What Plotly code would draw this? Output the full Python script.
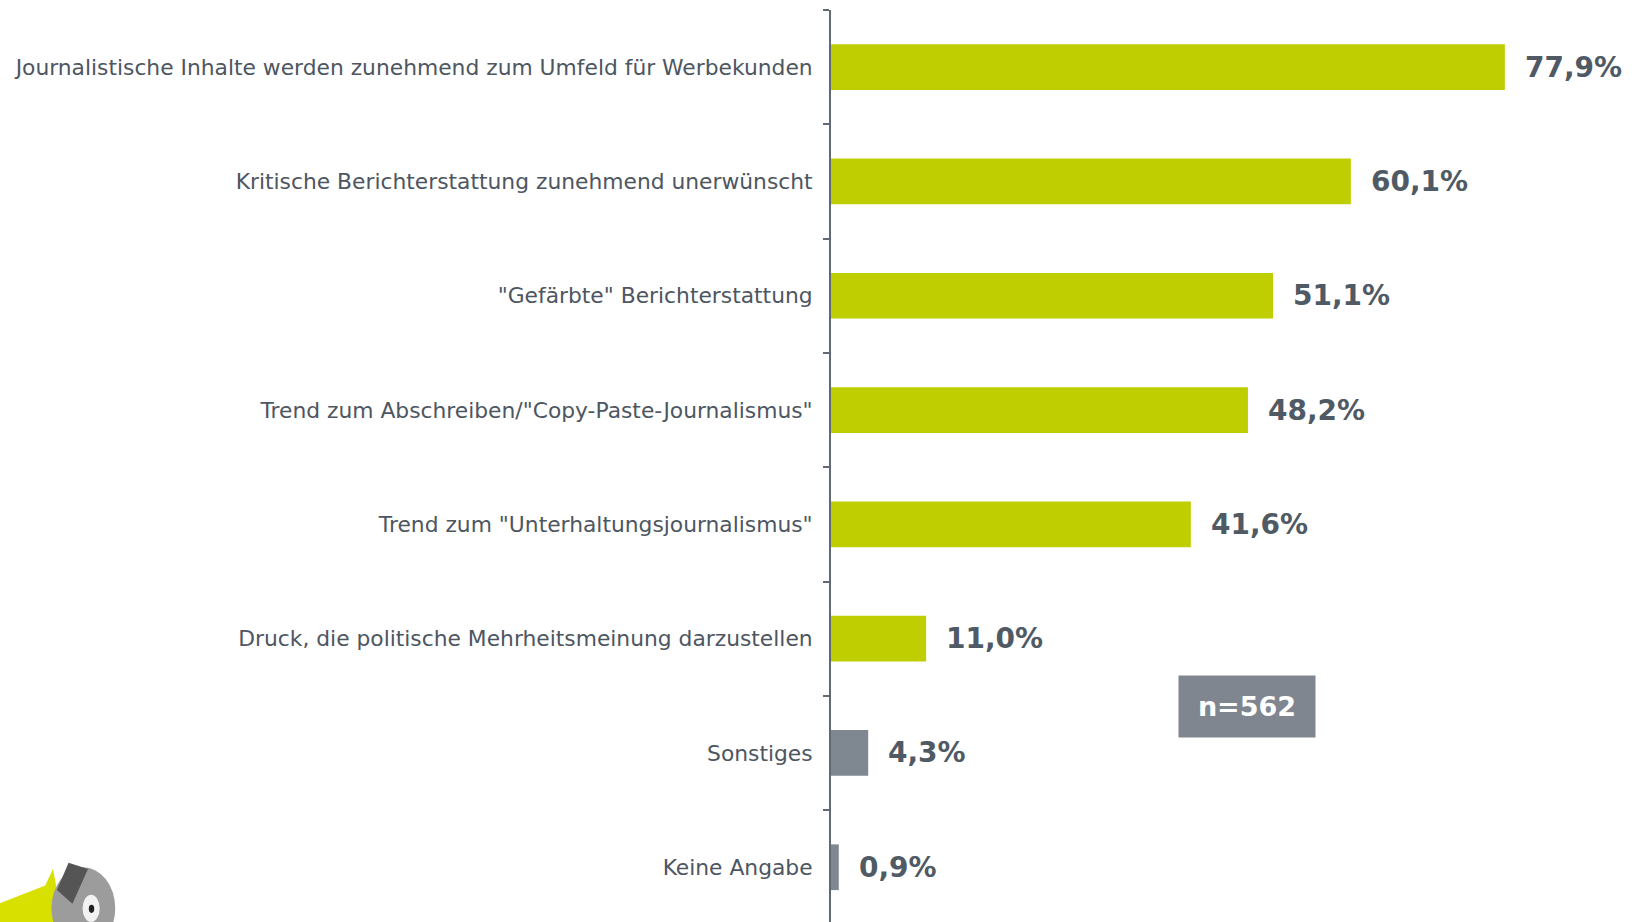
import plotly.graph_objects as go

categories = [
    "Journalistische Inhalte werden zunehmend zum Umfeld für Werbekunden",
    "Kritische Berichterstattung zunehmend unerwünscht",
    "\"Gefärbte\" Berichterstattung",
    "Trend zum Abschreiben/\"Copy-Paste-Journalismus\"",
    "Trend zum \"Unterhaltungsjournalismus\"",
    "Druck, die politische Mehrheitsmeinung darzustellen",
    "Sonstiges",
    "Keine Angabe",
]
values = [77.9, 60.1, 51.1, 48.2, 41.6, 11.0, 4.3, 0.9]
bar_colors = ["#bfce00"] * 6 + ["#7f8790"] * 2
value_labels = [f"{v:.1f}%".replace(".", ",") for v in values]
sample_note = "n=562"

fig = go.Figure()
fig.add_trace(go.Bar(
    y=categories, x=values, orientation="h",
    marker=dict(color=bar_colors, line=dict(width=0)),
    width=0.4, hoverinfo="skip",
))

for cat, v, lab in zip(categories, values, value_labels):
    fig.add_annotation(
        x=v, y=cat, text=f"<b>{lab}</b>", showarrow=False,
        xanchor="left", yanchor="middle", xshift=18,
        font=dict(family="DejaVu Sans", size=28, color="#4f5a65"),
    )

fig.add_annotation(
    xref="paper", yref="paper", x=(1247 - 831) / 778, y=(922 - 706) / 912,
    text=f"<b>{sample_note}</b>", showarrow=False,
    xanchor="center", yanchor="middle",
    width=130, height=55, borderpad=3,
    bgcolor="#80868f",
    font=dict(family="DejaVu Sans", size=27, color="#ffffff"),
)

# small logo approximation (bottom-left)
fig.add_shape(type="path", xref="paper", yref="paper",
              path="M -1.07 -0.01 L -1.07 0.02 L -1.01 0.04 L -1.0 0.058 L -0.985 -0.01 Z",
              fillcolor="#d8e000", line=dict(width=0), layer="above")
fig.add_shape(type="circle", xref="paper", yref="paper",
              x0=-1.002, x1=-0.92, y0=-0.03, y1=0.06,
              fillcolor="#9c9c9c", line=dict(width=0), layer="above")
fig.add_shape(type="path", xref="paper", yref="paper",
              path="M -0.995 0.035 L -0.98 0.065 L -0.955 0.058 L -0.975 0.02 Z",
              fillcolor="#555555", line=dict(width=0), layer="above")
fig.add_shape(type="circle", xref="paper", yref="paper",
              x0=-0.962, x1=-0.94, y0=0.0, y1=0.03,
              fillcolor="#f2f2f2", line=dict(width=0), layer="above")
fig.add_shape(type="circle", xref="paper", yref="paper",
              x0=-0.954, x1=-0.947, y0=0.01, y1=0.019,
              fillcolor="#222222", line=dict(width=0), layer="above")

fig.update_layout(
    width=1634, height=922,
    margin=dict(l=831, r=25, t=10, b=0),
    plot_bgcolor="white", paper_bgcolor="white",
    showlegend=False, bargap=0.6,
    xaxis=dict(range=[0, 778 / 8.65], visible=False, showgrid=False, zeroline=False),
    yaxis=dict(
        type="category", categoryorder="array", categoryarray=categories,
        range=[7.479, -0.5],
        showline=True, linecolor="#5f6a75", linewidth=2,
        ticks="outside", ticklen=6, tickcolor="#5f6a75", tickwidth=2,
        tickson="boundaries", showgrid=False, zeroline=False,
        ticklabelstandoff=12,
        tickfont=dict(family="DejaVu Sans", size=21.8, color="#4d5661"),
    ),
)

fig.write_html("out.html", config={"displayModeBar": False})
with open("out.html", "r", encoding="utf-8") as f:
    html = f.read()
html = html.replace("<head>", "<head><style>html,body{margin:0;padding:0;overflow:hidden;}</style>", 1)
with open("out.html", "w", encoding="utf-8") as f:
    f.write(html)
